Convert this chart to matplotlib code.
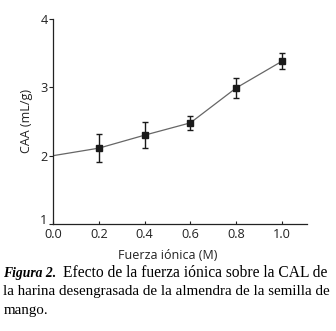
import matplotlib
matplotlib.use('Agg')
import matplotlib.pyplot as plt
import matplotlib.transforms as mtransforms

# data
fuerza = [0.0, 0.2, 0.4, 0.6, 0.8, 1.0]
caa = [2.0, 2.11, 2.30, 2.48, 2.99, 3.38]
err = [0.0, 0.20, 0.19, 0.10, 0.14, 0.12]
xticks = [0.0, 0.2, 0.4, 0.6, 0.8, 1.0]
yticks = [1, 2, 3, 4]

plt.rcParams['font.family'] = ['Open Sans', 'DejaVu Sans']

fig = plt.figure(figsize=(3.36, 3.31), dpi=100)
ax = fig.add_axes([0.158, 0.323, 0.756, 0.62])

# line starts at the x=0 value, markers only on measured points
ax.plot(fuerza, caa, color='#666666', lw=0.9, zorder=2)
ax.errorbar(fuerza[1:], caa[1:], yerr=err[1:], fmt='s', color='#1a1a1a',
            ms=4.2, elinewidth=1.0, capsize=2.2, capthick=1.0, zorder=3)

ax.set_xlim(0, 1.11)
ax.set_ylim(1, 4)
ax.set_xticks(xticks)
ax.set_xticklabels(['{:.1f}'.format(x) for x in xticks])
ax.set_yticks(yticks)
ax.spines['top'].set_visible(False)
ax.spines['right'].set_visible(False)
for s in ['left', 'bottom']:
    ax.spines[s].set_linewidth(0.9)
    ax.spines[s].set_color('#222222')
ax.tick_params(axis='both', labelsize=9.2, colors='#222222', width=0.8)
ax.tick_params(axis='y', length=3, pad=1)
ax.tick_params(axis='x', direction='in', length=2, pad=3)

# the "1" sits a bit above its tick in the original
lab1 = ax.get_yticklabels()[0]
lab1.set_transform(lab1.get_transform() +
                   mtransforms.ScaledTranslation(0, 4 / 72, fig.dpi_scale_trans))

ax.set_ylabel('CAA (mL/g)', fontsize=9, color='#222222', labelpad=5)
ax.set_xlabel('Fuerza iónica (M)', fontsize=9, color='#222222', labelpad=5)
ax.xaxis.set_label_coords(0.5 / 1.11, -0.12)

serif = ['Liberation Serif', 'DejaVu Serif']
fig.text(0.01, 0.175, 'Figura 2.', family=serif, style='italic', weight='bold',
         fontsize=9.8, va='center', ha='left')
fig.text(63 / 336, 0.175, 'Efecto de la fuerza iónica sobre la CAL de', family=serif,
         fontsize=11.2, va='center', ha='left')
fig.text(0.01, 0.118, 'la harina desengrasada de la almendra de la semilla de',
         family=serif, fontsize=10.8, va='center', ha='left')
fig.text(0.01, 0.061, 'mango.', family=serif, fontsize=10.8, va='center', ha='left')

fig.savefig('out.png', dpi=100)
